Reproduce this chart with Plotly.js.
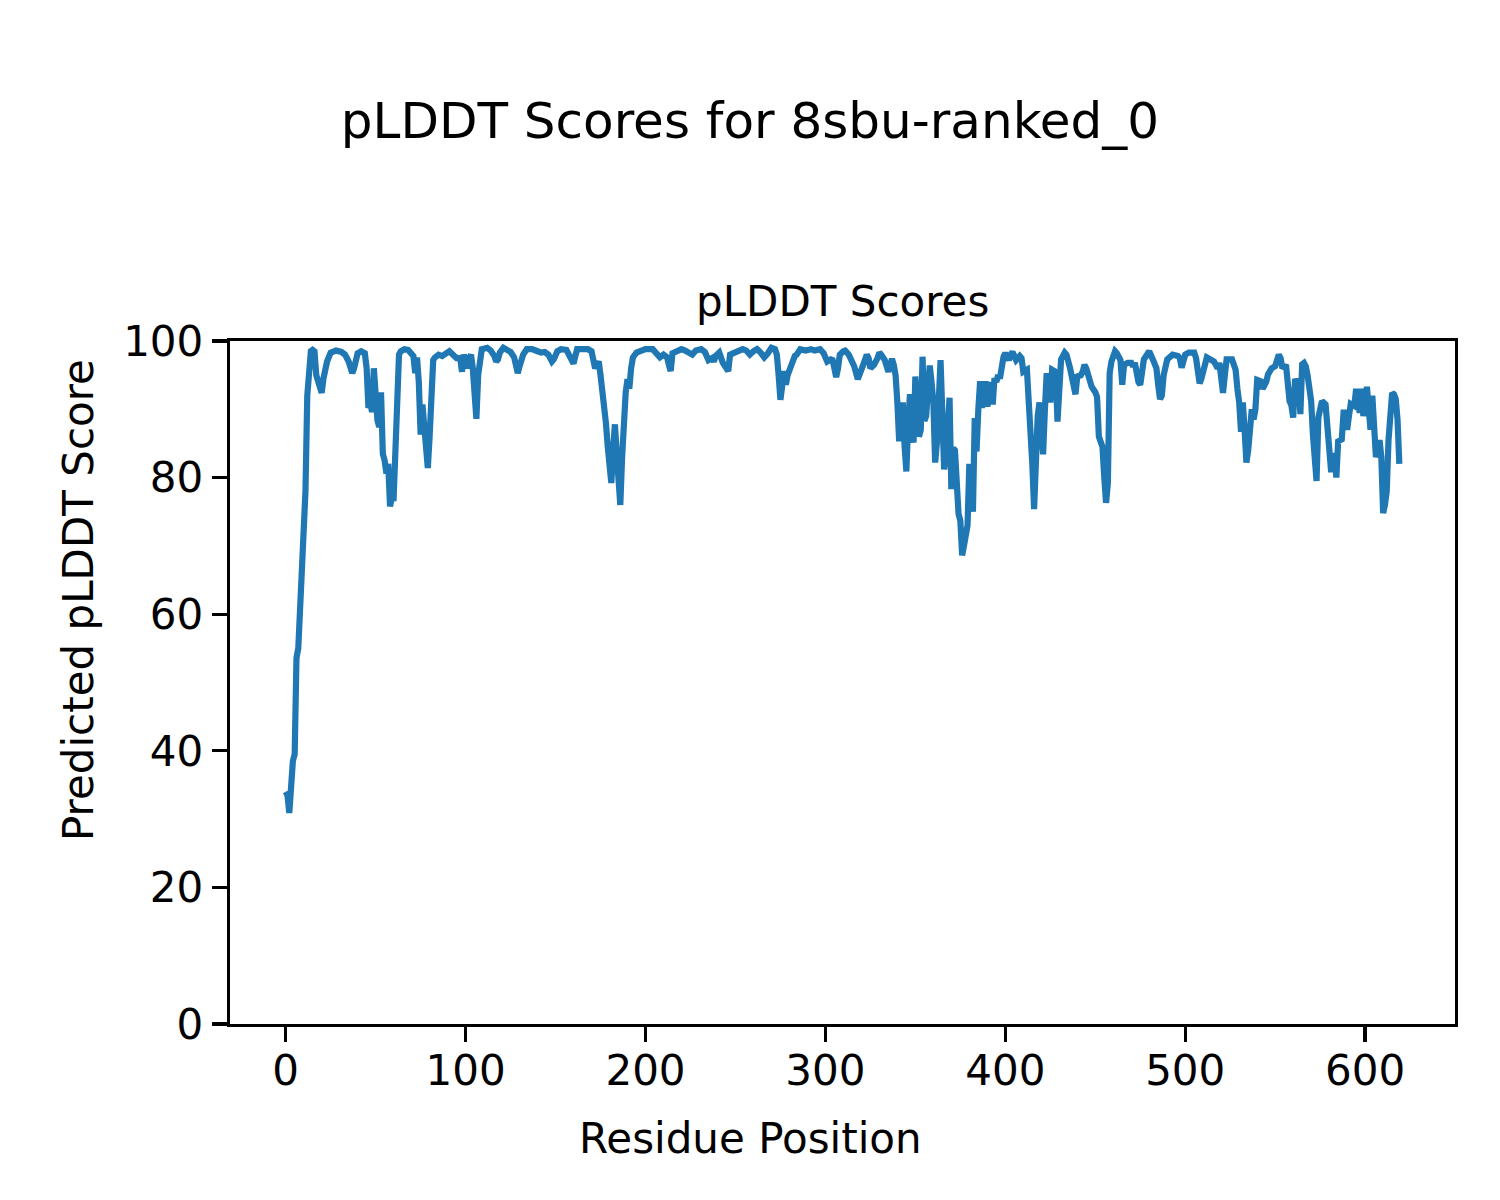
<!DOCTYPE html>
<html>
<head>
<meta charset="utf-8">
<script src="https://cdn.plot.ly/plotly-3.0.1.min.js"></script>
<style>html,body{margin:0;padding:0;background:#fff;}#chart{width:1500px;height:1200px;}</style>
</head>
<body>
<div id="chart"></div>
<script>
// Residue positions (at each visible turning point)
const residues = [0,1,2,3,4,5,6,7,8,9,10,11,12,13,14,15,16,17,18,19,20,21,22,23,25,28,31,33,35,37,38,40,42,44,45,46,47,48,49,50,51,52,53,54,55,56,57,58,59,60,61,62,63,64,66,68,70,71,72,73,74,75,76,77,78,79,80,81,82,83,85,87,89,91,93,95,97,98,99,100,101,102,103,104,105,106,107,108,109,112,114,116,117,118,119,121,123,125,127,128,129,130,132,134,137,140,142,144,146,148,149,151,153,156,158,159,160,161,162,165,168,170,171,172,173,174,175,176,177,178,179,180,181,182,183,184,185,186,187,188,189,190,191,192,193,195,197,200,204,206,208,210,212,213,214,215,217,220,222,224,226,228,231,233,235,237,238,239,241,243,244,246,247,249,251,254,256,258,260,262,264,266,268,270,272,273,274,275,277,278,279,281,283,284,286,289,292,294,297,299,301,303,304,305,306,307,308,310,311,313,315,316,318,319,321,323,324,325,327,329,330,331,333,335,337,338,339,340,341,342,343,344,345,346,347,348,349,350,351,352,353,354,355,356,357,358,359,360,361,362,364,365,366,367,368,369,370,371,372,373,374,375,376,377,378,379,380,381,382,383,384,385,386,387,388,389,390,391,392,393,394,395,396,397,398,399,400,401,402,403,404,406,408,409,410,412,413,414,415,416,417,418,419,420,421,422,423,424,425,426,428,429,430,431,433,434,436,437,438,439,440,442,443,444,445,446,448,450,451,452,453,454,455,456,457,458,459,461,462,464,465,466,468,470,471,472,474,475,477,479,480,482,484,485,486,487,488,490,493,496,497,498,500,502,505,506,507,508,509,511,512,514,516,517,518,519,520,521,522,523,526,528,529,530,531,532,533,534,535,536,537,538,539,540,542,543,544,545,546,548,550,552,553,554,556,557,558,559,560,561,563,564,565,566,567,568,569,570,571,572,573,574,575,576,578,579,580,581,582,583,584,585,587,588,589,590,591,592,594,595,596,597,598,599,600,601,602,603,604,605,606,607,608,609,610,611,612,613,614,615,616,617,618,619];
// Predicted pLDDT score at each of those residues
const scores = [34,33.5,30.9,36,38.5,39.5,53.6,55,60,67.7,69.7,78,92,97.5,98.5,98.7,98.5,95,94,93.5,92.4,94.5,96,97,98.3,98.6,98.4,98,97,95.3,96,98.2,98.5,98.2,96,90.2,91,89.6,96,91,88.4,87.4,92.5,83.5,82.5,80.6,82,75.8,77,77,85,92,98,98.5,98.8,98.7,98,97.8,95.3,97.6,94,86.3,90.7,88,84,81.4,86,93,97.2,97.6,98,97.8,98.3,98.5,98,97.5,97.5,95.5,98,97,96,97.5,98,96,92,88.6,95,98,98.8,99,98.6,97.8,97,97.3,98.3,99,98.8,98.4,97.6,96.5,95.3,96.3,98,98.8,98.8,98.5,98.3,98.4,98,97,97.3,98.5,98.8,98.7,97.8,97,96.7,97.8,98.8,98.8,98.8,98.5,97.5,96,96.5,97,95,93,91,88,84.6,81,79.2,84,87.8,83.6,80,76,83,91,92.5,94.4,93,96,97.6,98.3,98.5,98.8,98.8,98.3,97.6,98,97.6,96.5,95.6,98.2,98.5,98.8,98.6,98.4,98,98.6,98.8,98.4,97.2,97.5,97,97.8,98.3,96.8,96.5,95.6,98,98.3,98.6,98.8,98.6,98,98.5,98.8,98.3,97.6,98.2,99,98.8,98,95,91.4,95.6,93.6,95,96.5,97.8,98,98.8,98.6,98.8,98.6,98.8,98.2,97,97.3,97.2,96,94.7,96,98,98.5,98.6,98,97,96.3,94.4,95,96.5,98,97.5,96,96.5,97.5,98.3,98,97.2,95.5,97.4,96.5,95,91,85.3,89,91,84.6,80.9,88,92.2,89,85.1,94.8,90,86,87,97.7,88.3,89,93,96.4,94,91,82.2,85.2,97.2,90,81.2,83,87,91.7,78.3,84.3,84,77,74.7,73.7,68.6,70,71.7,73,82,77,75,88.7,83.8,90,94.1,90.2,92,94.1,90.4,93,94,90.7,94.6,94,95,94.5,96.3,97.7,98.2,97.5,97.2,98,98.4,97.2,97.8,97.5,95.5,95.8,92,88.8,82,75.4,85,89,91,86.6,83.4,90,95.3,93,91,95.8,95.5,88.2,94,97.3,98.3,98,96,94.5,93,92.2,94.8,95,95.5,96.5,96,95,93.3,92.5,91.8,86,85,84.5,80,76.3,79.2,95.3,97,98.5,98.2,97.2,93.6,96.5,96.8,96.8,96.3,96.8,94,93.6,97.3,98.3,98.5,97.3,96,93.5,91.5,92,95,97.3,98,97.8,97.5,96.1,98,98.3,98.3,97.5,95,93.8,94.5,97,97.6,97.3,97,96.5,96,96.8,95,92.4,95,97.3,97.3,95.8,93,91,86.7,91,87,82.2,84,86.2,90,88.5,90,94.3,94.1,93,93.5,94,95.1,96,96.3,98,97.5,96,96.5,93,91.2,90.6,88.8,94.1,94.2,89.3,96.6,96.8,96.3,95,93,91.2,86.2,80.5,79.5,88.8,90.5,91.2,90.7,87,85.5,81.2,81.2,83.6,80,85.3,85.6,89.5,89.5,87,89,90.8,90.5,93,91,89.5,93,89,91,93.3,90,87,92,87,83,84,85.5,83,74.8,76,78,85.5,90,92.4,92.2,91.5,88.5,82];

const xTicks = [0,100,200,300,400,500,600];
const yTicks = [0,20,40,60,80,100];

const FONT = "DejaVu Sans, Liberation Sans, sans-serif";

const trace = {
  x: residues,
  y: scores,
  type: 'scatter',
  mode: 'lines',
  line: {color: '#1f77b4', width: 6.2},
  hoverinfo: 'x+y'
};

// plot area: x 230..1455, y 341..1024
const L = 230, R = 1455, T = 341, B = 1024;
const W = R - L, H = B - T;
function px(x){ return (x - L) / W; }
function py(y){ return (B - y) / H; }

const layout = {
  width: 1500, height: 1200,
  paper_bgcolor: '#ffffff', plot_bgcolor: '#ffffff',
  margin: {l: L, r: 1500 - R, t: T, b: 1200 - B, pad: 0},
  showlegend: false,
  font: {family: FONT, color: '#000000', size: 42},
  title: {
    text: 'pLDDT Scores for 8sbu-ranked_0',
    font: {family: FONT, size: 50, color: '#000000'},
    x: 0.5, xref: 'container', xanchor: 'center',
    y: 1 - 120/1200, yref: 'container', yanchor: 'middle'
  },
  xaxis: {
    range: [-30.95, 649.95],
    tickvals: xTicks,
    ticktext: xTicks.map(String),
    ticks: 'outside', ticklen: 15, tickwidth: 3.3, tickcolor: '#000',
    ticklabelstandoff: -8,
    showline: true, linecolor: '#000', linewidth: 3.3, mirror: true,
    showgrid: false, zeroline: false,
    tickfont: {family: FONT, size: 42, color: '#000'}
  },
  yaxis: {
    range: [0, 100],
    tickvals: yTicks,
    ticktext: yTicks.map(String),
    ticks: 'outside', ticklen: 15, tickwidth: 3.3, tickcolor: '#000',
    showline: true, linecolor: '#000', linewidth: 3.3, mirror: true,
    showgrid: false, zeroline: false,
    tickfont: {family: FONT, size: 42, color: '#000'}
  },
  annotations: [
    {text: 'pLDDT Scores', xref: 'paper', yref: 'paper', x: 0.5, y: py(302),
     xanchor: 'center', yanchor: 'middle', showarrow: false,
     font: {family: FONT, size: 42, color: '#000'}},
    {text: 'Residue Position', xref: 'paper', yref: 'paper', x: px(750), y: py(1138),
     xanchor: 'center', yanchor: 'middle', showarrow: false,
     font: {family: FONT, size: 42, color: '#000'}},
    {text: 'Predicted pLDDT Score', xref: 'paper', yref: 'paper', x: px(78), y: py(600),
     xanchor: 'center', yanchor: 'middle', showarrow: false, textangle: -90,
     font: {family: FONT, size: 42, color: '#000'}}
  ]
};

Plotly.newPlot('chart', [trace], layout, {displayModeBar: false, staticPlot: true});
</script>
</body>
</html>
